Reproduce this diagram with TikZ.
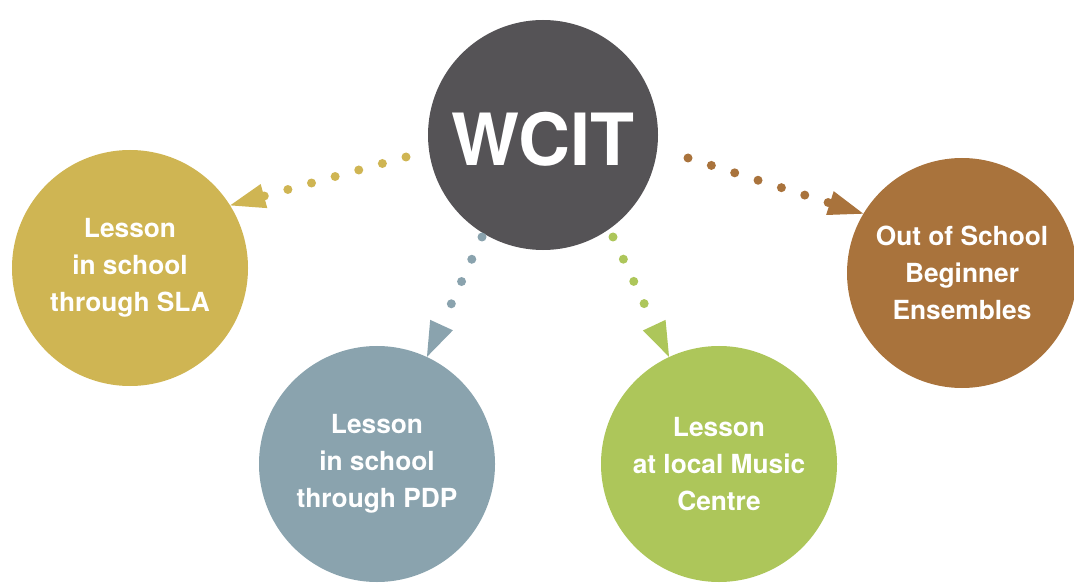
\documentclass[tikz,border=0pt]{standalone}
\usepackage{fontspec}
\setmainfont{TeX Gyre Heros}
\usetikzlibrary{arrows.meta}

\definecolor{hubgrey}{RGB}{85,83,86}
\definecolor{slagold}{RGB}{207,181,83}
\definecolor{pdpblue}{RGB}{138,163,174}
\definecolor{lmcgreen}{RGB}{173,198,90}
\definecolor{oosbrown}{RGB}{169,115,60}

\begin{document}
\begin{tikzpicture}[x=1bp, y=-1bp,
  hub/.style={circle, fill=hubgrey, inner sep=0pt, minimum size=\hubd,
    text=white, font=\fontsize{72bp}{72bp}\selectfont\bfseries,
    text height=61bp, text depth=0bp},
  leaf/.style={circle, inner sep=0pt, minimum size=\leafd, text=white,
    align=center, font=\fontsize{26.3bp}{37bp}\selectfont\bfseries},
  link/.style={line width=9bp, line cap=round, dash pattern=on 0bp off 24.5bp,
    -{Triangle[length=35bp, width=25bp, line width=0bp]}}]

% Bubble sizes
\newcommand{\hubd}{230bp}
\newcommand{\leafd}{236bp}

\useasboundingbox (0,0) rectangle (1074,583);

% Hub
\node[hub] (wcit) at (543,135) {WCIT};

% Leaves
\node[leaf, fill=slagold] (sla) at (130,268) {Lesson\\in school\\through SLA};
\node[leaf, fill=pdpblue] (pdp) at (377,464) {Lesson\\in school\\through PDP};
\node[leaf, fill=lmcgreen] (lmc) at (719,464) {Lesson\\at local Music\\Centre};
\node[leaf, fill=oosbrown, minimum size=230bp] (oos) at (962,273)
  {Out of School\\Beginner\\Ensembles};

% First dot of each link
\coordinate (slastart) at (406,157);
\coordinate (pdpstart) at (482,237);
\coordinate (lmcstart) at (613,237);
\coordinate (oosstart) at (688,158);

% Dotted links
\draw[link, slagold] (slastart) -- (sla.32);
\draw[link, pdpblue] (pdpstart) -- (pdp.65);
\draw[link, lmcgreen] (lmcstart) -- (lmc.115);
\draw[link, oosbrown] (oosstart) -- (oos.149);

\end{tikzpicture}
\end{document}
